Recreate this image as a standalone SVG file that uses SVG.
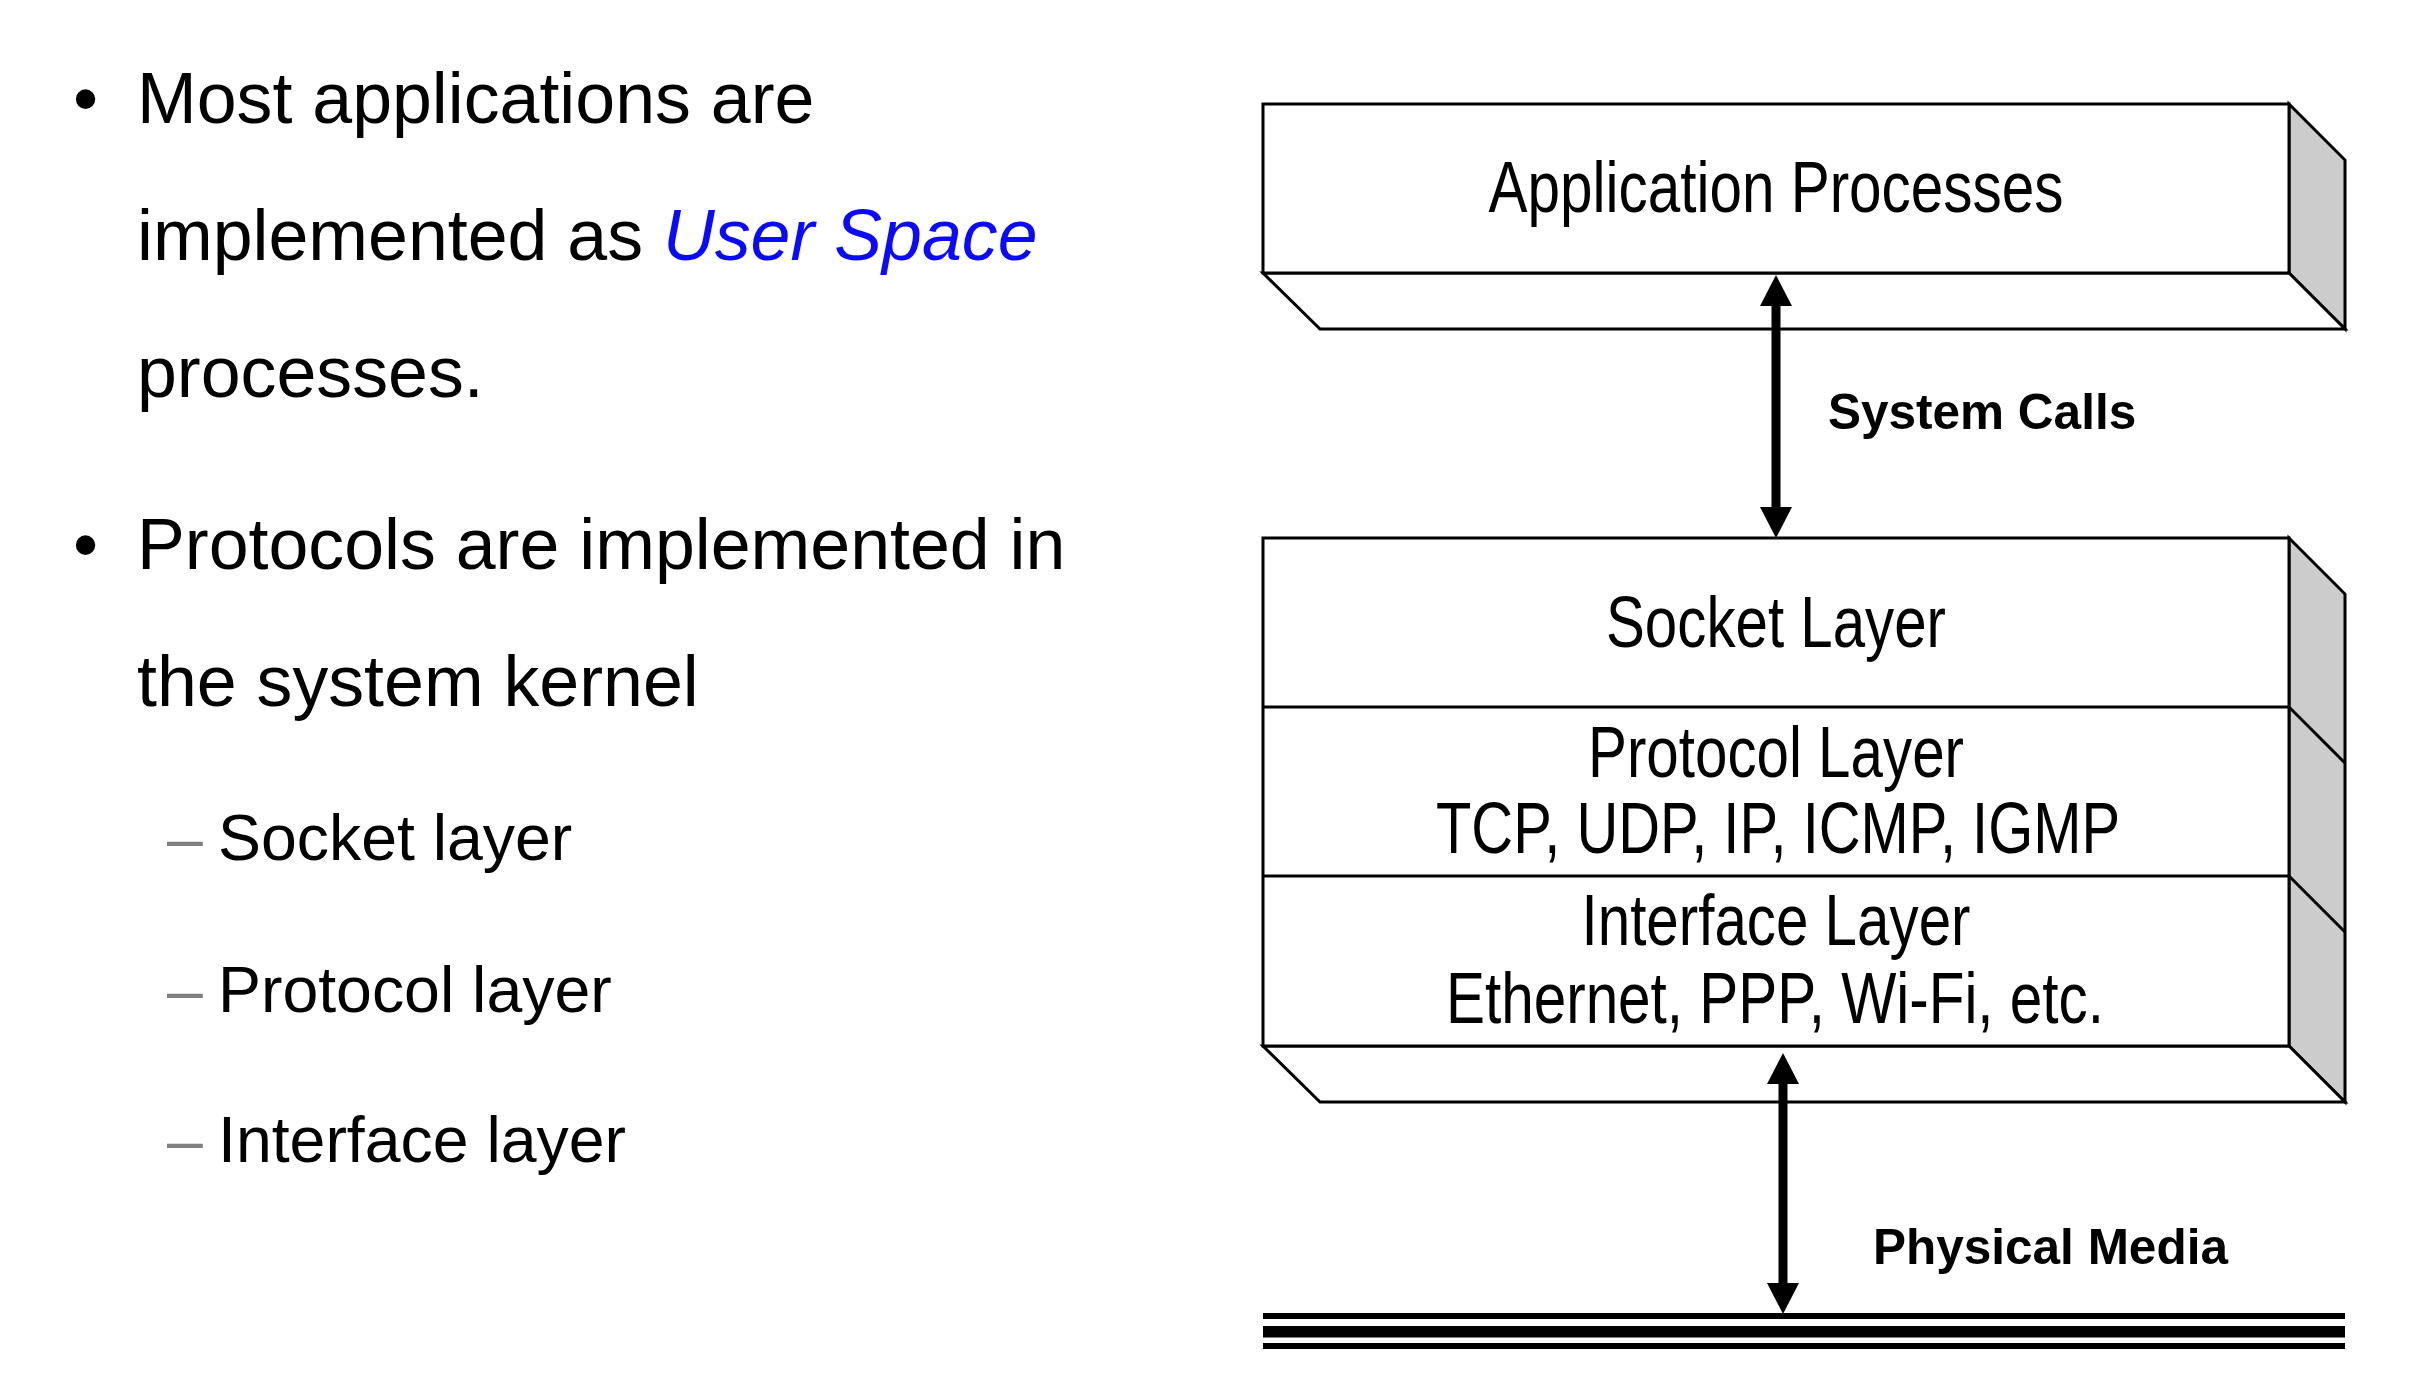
<svg xmlns="http://www.w3.org/2000/svg" width="2430" height="1394" viewBox="0 0 2430 1394">
<style>
.bg{fill:#ffffff}
.front{fill:#ffffff;stroke:#000;stroke-width:3;stroke-linejoin:miter}
.side{fill:#cccccc;stroke:#000;stroke-width:3;stroke-linejoin:miter}
.div{stroke:#000;stroke-width:3;fill:none}
.body{font-family:"Liberation Sans",Arial,sans-serif;font-size:71.7px;fill:#000}
.sub{font-family:"Liberation Sans",Arial,sans-serif;font-size:64.4px;fill:#000}
.dash{fill:#808080}
.us{fill:#0a0aff;font-style:italic}
.lbl{font-family:"Liberation Sans",Arial,sans-serif;font-size:72px;fill:#000;text-anchor:middle}
.conn{font-family:"Liberation Sans",Arial,sans-serif;font-size:49.5px;font-weight:bold;fill:#000}
.shaft{stroke:#000;stroke-width:9;fill:none}
.media{fill:#000}
</style>
<defs>
<marker id="head" viewBox="0 0 31 32" markerWidth="31" markerHeight="32" refX="0" refY="16" orient="auto-start-reverse" markerUnits="userSpaceOnUse">
<path d="M0,0 L31,16 L0,32 Z" fill="#000"/>
</marker>
</defs>
<rect class="bg" x="0" y="0" width="2430" height="1394"/>

<g id="bullets">
<text class="body" x="73" y="123">•</text>
<text class="body" x="137" y="123">Most applications are</text>
<text class="body" x="137" y="260">implemented as <tspan class="us">User Space</tspan></text>
<text class="body" x="137" y="397">processes.</text>
<text class="body" x="73" y="569">•</text>
<text class="body" x="137" y="569">Protocols are implemented in</text>
<text class="body" x="137" y="706">the system kernel</text>
<text class="sub dash" x="167" y="860">–</text>
<text class="sub" x="218" y="860">Socket layer</text>
<text class="sub dash" x="167" y="1012">–</text>
<text class="sub" x="218" y="1012">Protocol layer</text>
<text class="sub dash" x="167" y="1162">–</text>
<text class="sub" x="218" y="1162">Interface layer</text>
</g>

<g id="app-processes">
<polygon class="side" points="2289,104 2345,160 2345,329 2289,273"/>
<polygon class="front" points="1263,273 2289,273 2345,329 1320,329"/>
<rect class="front" x="1263" y="104" width="1026" height="169"/>
<text class="lbl" x="1776" y="212" textLength="575" lengthAdjust="spacingAndGlyphs">Application Processes</text>
</g>

<g id="kernel-stack">
<polygon class="side" points="2289,538 2345,594 2345,1102 2289,1046"/>
<line class="div" x1="2289" y1="707" x2="2345" y2="763"/>
<line class="div" x1="2289" y1="876" x2="2345" y2="932"/>
<polygon class="front" points="1263,1046 2289,1046 2345,1102 1320,1102"/>
<rect class="front" x="1263" y="538" width="1026" height="508"/>
</g>

<g id="socket-layer">
<line class="div" x1="1263" y1="707" x2="2289" y2="707"/>
<text class="lbl" x="1776" y="647" textLength="340" lengthAdjust="spacingAndGlyphs">Socket Layer</text>
</g>

<g id="protocol-layer">
<line class="div" x1="1263" y1="876" x2="2289" y2="876"/>
<text class="lbl" x="1776" y="777" textLength="376" lengthAdjust="spacingAndGlyphs">Protocol Layer</text>
<text class="lbl" x="1778" y="853" textLength="684" lengthAdjust="spacingAndGlyphs">TCP, UDP, IP, ICMP, IGMP</text>
</g>

<g id="interface-layer">
<text class="lbl" x="1776" y="945" textLength="389" lengthAdjust="spacingAndGlyphs">Interface Layer</text>
<text class="lbl" x="1775" y="1023" textLength="658" lengthAdjust="spacingAndGlyphs">Ethernet, PPP, Wi-Fi, etc.</text>
</g>

<g id="physical-media">
<rect class="media" x="1263" y="1313" width="1082" height="6"/>
<rect class="media" x="1263" y="1326" width="1082" height="11.5"/>
<rect class="media" x="1263" y="1343" width="1082" height="6"/>
</g>

<g id="connectors">
<line class="shaft" x1="1776" y1="306" x2="1776" y2="507" marker-start="url(#head)" marker-end="url(#head)"/>
<text class="conn" x="1828" y="429">System Calls</text>
<line class="shaft" x1="1783" y1="1084" x2="1783" y2="1283" marker-start="url(#head)" marker-end="url(#head)"/>
<text class="conn" x="1873" y="1264">Physical Media</text>
</g>
</svg>
